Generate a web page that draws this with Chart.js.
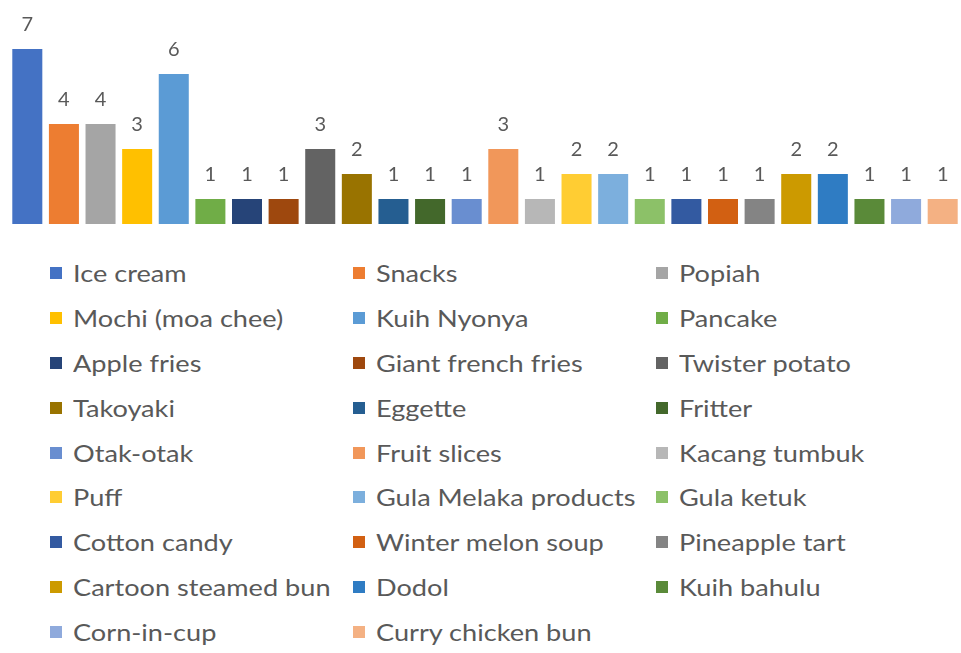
<!DOCTYPE html>
<html>
<head>
<meta charset="utf-8">
<script src="https://cdn.jsdelivr.net/npm/chart.js@4.4.1/dist/chart.umd.min.js"></script>
<style>
  html, body { margin: 0; padding: 0; background: #fff; }
  #wrap { position: relative; width: 961px; height: 653px; overflow: hidden; }
  #chartBox { position: absolute; left: 0; top: 0; width: 961px; height: 240px; }
  #legend {
    position: absolute; left: 50px; top: 251px;
    display: grid; grid-template-columns: 303px 303px 303px;
    font-family: Lato, "Open Sans", sans-serif; font-size: 23px; color: #595959;
  }
  .item { height: 44.8px; display: flex; align-items: center; white-space: nowrap; }
  .box { width: 12px; height: 12px; margin-right: 11px; flex: none; }
  .txt { display: inline-block; transform: scaleX(1.18); transform-origin: left center; }
</style>
</head>
<body>
<div id="wrap">
  <div id="chartBox"><canvas id="grafico"></canvas></div>
  <div id="legend"></div>
</div>
<script>
// Productos y cantidades (una serie por producto)
const productos = [
  'Ice cream', 'Snacks', 'Popiah', 'Mochi (moa chee)', 'Kuih Nyonya', 'Pancake',
  'Apple fries', 'Giant french fries', 'Twister potato', 'Takoyaki', 'Eggette', 'Fritter',
  'Otak-otak', 'Fruit slices', 'Kacang tumbuk', 'Puff', 'Gula Melaka products', 'Gula ketuk',
  'Cotton candy', 'Winter melon soup', 'Pineapple tart', 'Cartoon steamed bun', 'Dodol', 'Kuih bahulu',
  'Corn-in-cup', 'Curry chicken bun'
];
const cantidades = [7, 4, 4, 3, 6, 1, 1, 1, 3, 2, 1, 1, 1, 3, 1, 2, 2, 1, 1, 1, 1, 2, 2, 1, 1, 1];
const colores = [
  '#4472C4', '#ED7D31', '#A5A5A5', '#FFC000', '#5B9BD5', '#70AD47',
  '#264478', '#9E480E', '#636363', '#997300', '#255E91', '#43682B',
  '#698ED0', '#F1975A', '#B7B7B7', '#FFCD33', '#7CAFDD', '#8CC168',
  '#335AA1', '#D26012', '#848484', '#CC9A00', '#2F7CC3', '#5A8A39',
  '#8FAADC', '#F4B183'
];

// etiquetas encima de cada barra
const etiquetasBarras = {
  id: 'etiquetasBarras',
  afterDatasetsDraw(chart) {
    const ctx = chart.ctx;
    ctx.save();
    ctx.font = '20px Lato, "Open Sans", sans-serif';
    ctx.fillStyle = '#595959';
    ctx.textAlign = 'center';
    ctx.textBaseline = 'middle';
    chart.data.datasets.forEach((ds, i) => {
      chart.getDatasetMeta(i).data.forEach((bar, j) => {
        ctx.fillText(ds.data[j], bar.x, bar.y - 24);
      });
    });
    ctx.restore();
  }
};

const ctx = document.getElementById('grafico').getContext('2d');
const grafico = new Chart(ctx, {
  type: 'bar',
  data: {
    labels: [''],
    datasets: productos.map((p, i) => ({
      label: p,
      data: [cantidades[i]],
      backgroundColor: colores[i],
      borderWidth: 0,
      categoryPercentage: 1,
      barPercentage: 0.82
    }))
  },
  options: {
    responsive: true,
    maintainAspectRatio: false,
    animation: false,
    layout: { padding: { left: 9, right: 0, top: 24, bottom: 16 } },
    plugins: { legend: { display: false }, tooltip: { enabled: false } },
    scales: {
      x: { display: false },
      y: { display: false, min: 0, max: 8 }
    }
  },
  plugins: [etiquetasBarras]
});

// leyenda en 3 columnas
const leyenda = document.getElementById('legend');
grafico.data.datasets.forEach(ds => {
  const div = document.createElement('div');
  div.className = 'item';
  div.innerHTML = `<span class="box" style="background:${ds.backgroundColor}"></span><span class="txt">${ds.label}</span>`;
  leyenda.appendChild(div);
});
</script>
</body>
</html>
